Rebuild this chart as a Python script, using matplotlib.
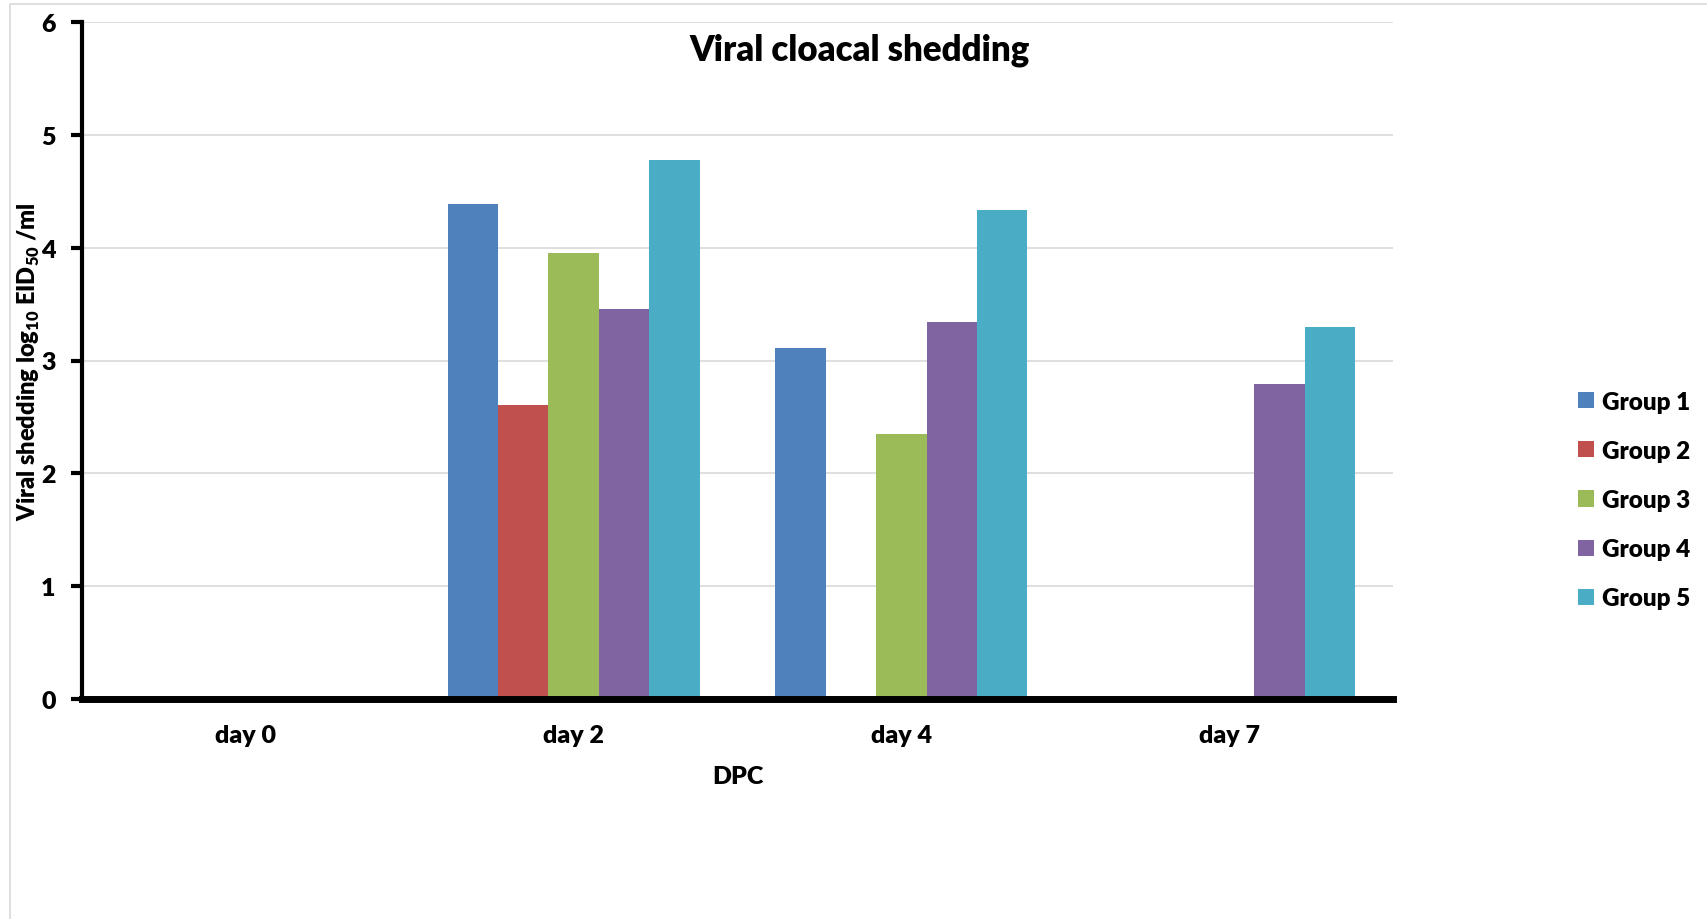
import matplotlib.pyplot as plt
import numpy as np
from matplotlib.patches import Rectangle

plt.rcParams['font.family'] = ['Lato', 'DejaVu Sans']
plt.rcParams['font.weight'] = 'heavy'
plt.rcParams['mathtext.fontset'] = 'custom'
plt.rcParams['mathtext.rm'] = 'Lato:heavy'
plt.rcParams['mathtext.bf'] = 'Lato:heavy'

days = ['day 0', 'day 2', 'day 4', 'day 7']
groups = ['Group 1', 'Group 2', 'Group 3', 'Group 4', 'Group 5']
group1 = [0, 4.39, 3.11, 0]
group2 = [0, 2.61, 0, 0]
group3 = [0, 3.95, 2.35, 0]
group4 = [0, 3.46, 3.34, 2.79]
group5 = [0, 4.78, 4.33, 3.30]
colors = ['#4F81BD', '#C0504D', '#9BBB59', '#8064A2', '#4BACC6']

fig = plt.figure(figsize=(17.07, 9.2), dpi=100)
ax = fig.add_axes([82 / 1707, 1 - 700 / 920, (1393 - 82) / 1707, (700 - 23) / 920])

# chart area frame
fig.patches.append(Rectangle((10 / 1707, -0.1), 1.2, 1 - 5 / 920 + 0.1, transform=fig.transFigure,
                             fill=False, edgecolor='#D9D9D9', linewidth=1.2))

x = np.arange(len(days))
w = 1 / 6.5
for k, (vals, name) in enumerate(zip([group1, group2, group3, group4, group5], groups)):
    ax.bar(x + (k - 2) * w, vals, width=w, color=colors[k], label=name, zorder=3)

ax.set_xlim(-0.5, 3.5)
ax.set_ylim(0, 6)
ax.set_yticks(range(7))
ax.set_xticks(x)
ax.set_xticklabels(days)
ax.yaxis.grid(True, color='#D9D9D9', linewidth=1.2, zorder=0)
ax.set_axisbelow(True)

for s in ['top', 'right']:
    ax.spines[s].set_visible(False)
ax.spines['left'].set_linewidth(3)
ax.spines['bottom'].set_linewidth(5)
ax.spines['bottom'].set_zorder(4)
ax.tick_params(axis='y', length=8, width=3, pad=11, labelsize=18)
ax.tick_params(axis='x', length=0, pad=18, labelsize=18)

ax.set_xlabel('DPC', fontsize=18, fontweight='heavy', labelpad=14)
fig.text(29 / 1707, 1 - 362 / 920, r'Viral shedding log$_{10}$ EID$_{50}$ /ml', rotation=90,
         ha='center', va='center', fontsize=17, fontweight='heavy')
fig.text(860 / 1707, 1 - 50 / 920, 'Viral cloacal shedding', ha='center', va='center',
         fontsize=25, fontweight='heavy')

ax.legend(loc='center left', bbox_to_anchor=(1556 / 1707, 1 - 501 / 920), bbox_transform=fig.transFigure,
          frameon=False, prop={'weight': 'heavy', 'size': 17.5}, handlelength=0.65,
          handleheight=0.65, handletextpad=0.35, labelspacing=1.12)

fig.savefig('out.png', dpi=100)
